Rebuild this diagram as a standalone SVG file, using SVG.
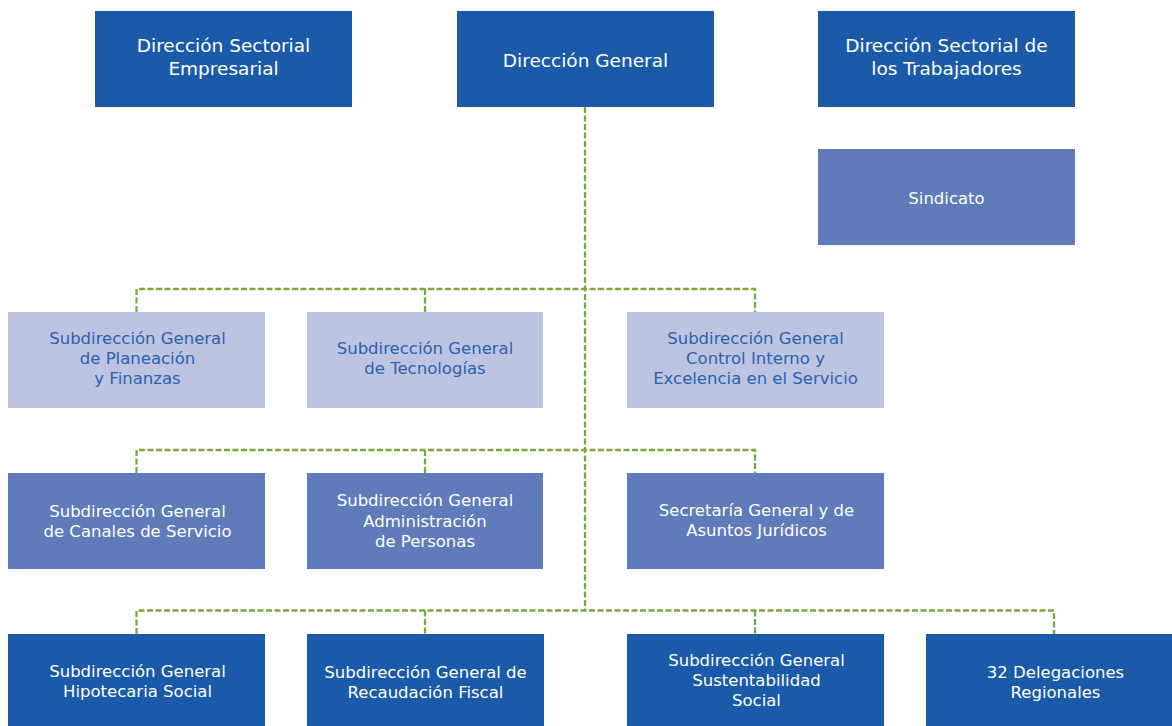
<svg xmlns="http://www.w3.org/2000/svg" width="1172" height="726" viewBox="0 0 1172 726">
<style>
.dark{fill:#1b5aa8}
.mid{fill:#5f7bba}
.light{fill:#bcc4e2}
text{font-family:"DejaVu Sans","Verdana",sans-serif;text-anchor:middle;dominant-baseline:central}
.t1{font-size:18.5px;fill:#ffffff}
.t2{font-size:16.5px;fill:#ffffff}
.t3{font-size:16.5px;fill:#2b62ae}
.conn{fill:none;stroke:#79a93f;stroke-width:2.3;stroke-dasharray:6 2.5}
</style>
<rect width="1172" height="726" fill="#ffffff"/>
<g id="connectors">
<path class="conn" d="M585 107 V610"/>
<path class="conn" d="M136.5 312 V289 H755 V312 M425 289 V312"/>
<path class="conn" d="M136.5 473 V450 H755 V473 M425 450 V473"/>
<path class="conn" d="M136.5 634 V610.5 H1054 V634 M425 610.5 V634 M755 610.5 V634"/>
</g>
<g id="n-dse"><rect class="dark" x="95" y="11" width="257" height="96"/><text class="t1" x="223.5" y="45">Dirección Sectorial</text><text class="t1" x="223.5" y="68">Empresarial</text></g>
<g id="n-dg"><rect class="dark" x="457" y="11" width="257" height="96"/><text class="t1" x="585.5" y="60">Dirección General</text></g>
<g id="n-dst"><rect class="dark" x="818" y="11" width="257" height="96"/><text class="t1" x="946.5" y="45">Dirección Sectorial de</text><text class="t1" x="946.5" y="68">los Trabajadores</text></g>
<g id="n-sind"><rect class="mid" x="818" y="149" width="257" height="96"/><text class="t2" x="946.5" y="198">Sindicato</text></g>
<g id="n-plan"><rect class="light" x="8" y="312" width="257" height="96"/><text class="t3" x="137.5" y="338">Subdirección General</text><text class="t3" x="137.5" y="358">de Planeación</text><text class="t3" x="137.5" y="378">y Finanzas</text></g>
<g id="n-tec"><rect class="light" x="307" y="312" width="236" height="96"/><text class="t3" x="425" y="348">Subdirección General</text><text class="t3" x="425" y="368">de Tecnologías</text></g>
<g id="n-ctrl"><rect class="light" x="627" y="312" width="257" height="96"/><text class="t3" x="755.5" y="338">Subdirección General</text><text class="t3" x="755.5" y="358">Control Interno y</text><text class="t3" x="755.5" y="378">Excelencia en el Servicio</text></g>
<g id="n-can"><rect class="mid" x="8" y="473" width="257" height="96"/><text class="t2" x="137.5" y="511">Subdirección General</text><text class="t2" x="137.5" y="531">de Canales de Servicio</text></g>
<g id="n-adm"><rect class="mid" x="307" y="473" width="236" height="96"/><text class="t2" x="425" y="500">Subdirección General</text><text class="t2" x="425" y="521">Administración</text><text class="t2" x="425" y="541">de Personas</text></g>
<g id="n-sec"><rect class="mid" x="627" y="473" width="257" height="96"/><text class="t2" x="756.5" y="510">Secretaría General y de</text><text class="t2" x="756.5" y="530">Asuntos Jurídicos</text></g>
<g id="n-hip"><rect class="dark" x="8" y="634" width="257" height="96"/><text class="t2" x="137.5" y="671">Subdirección General</text><text class="t2" x="137.5" y="691">Hipotecaria Social</text></g>
<g id="n-rec"><rect class="dark" x="307" y="634" width="237" height="96"/><text class="t2" x="425.5" y="672">Subdirección General de</text><text class="t2" x="425.5" y="692">Recaudación Fiscal</text></g>
<g id="n-sus"><rect class="dark" x="627" y="634" width="257" height="96"/><text class="t2" x="756.5" y="660">Subdirección General</text><text class="t2" x="756.5" y="680">Sustentabilidad</text><text class="t2" x="756.5" y="700">Social</text></g>
<g id="n-del"><rect class="dark" x="926" y="634" width="257" height="96"/><text class="t2" x="1055.5" y="672">32 Delegaciones</text><text class="t2" x="1055.5" y="692">Regionales</text></g>
</svg>
